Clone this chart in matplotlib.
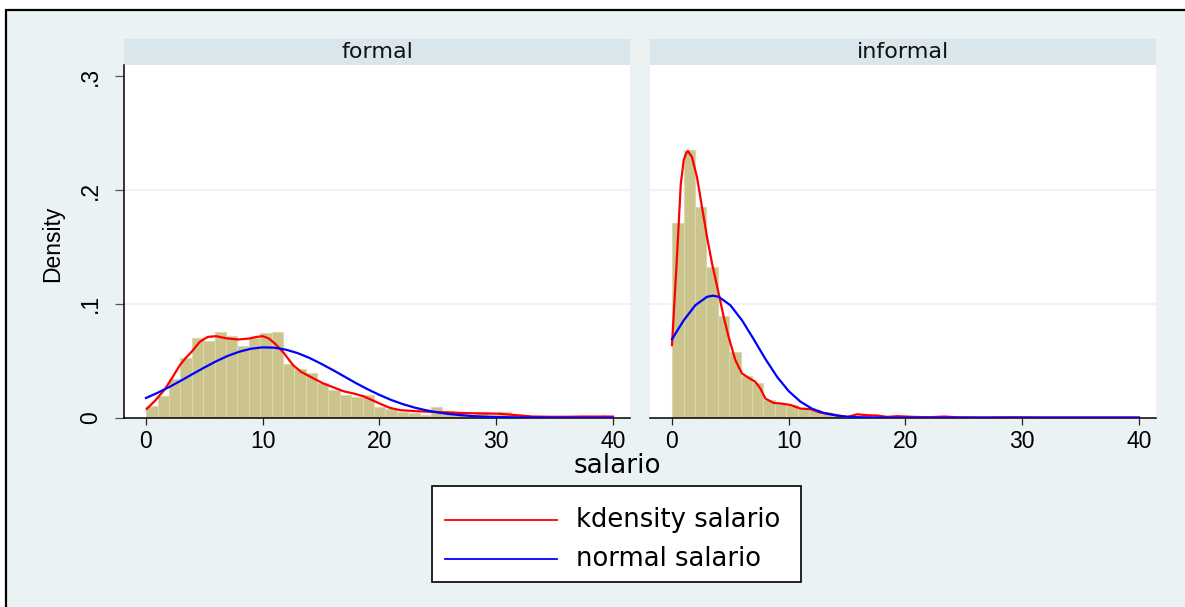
import numpy as np
import matplotlib
matplotlib.use('Agg')
import matplotlib.pyplot as plt
from matplotlib.patches import Rectangle
from matplotlib.lines import Line2D

# ── Data ─────────────────────────────────────────────────────────────────────
panels = ["formal", "informal"]

bin_start = 0.03
bin_width = 0.975

formal_hist = [0.0099, 0.0187, 0.0336, 0.0523, 0.0704, 0.0670, 0.0755, 0.0722,
               0.0626, 0.0702, 0.0742, 0.0757, 0.0468, 0.0430, 0.0395, 0.0304,
               0.0246, 0.0200, 0.0180, 0.0196, 0.0094, 0.0073, 0.0050, 0.0041,
               0.0020, 0.0097, 0.0059, 0.0035, 0.0026, 0.0047, 0.0026, 0.0047,
               0.0032, 0.0015, 0.0010, 0.0008, 0.0012, 0.0006, 0.0008, 0.0006,
               0.0020]
informal_hist = [0.1710, 0.2354, 0.1850, 0.1327, 0.0897, 0.0576, 0.0362, 0.0307,
                 0.0152, 0.0123, 0.0108, 0.0079, 0.0064, 0.0035, 0.0015, 0.0008,
                 0.0012, 0.0009, 0.0006, 0.0007, 0.0005, 0.0004, 0.0003, 0.0004,
                 0.0003, 0.0002, 0.0002, 0.0002, 0.0002, 0.0002, 0.0001, 0.0001,
                 0.0001, 0.0001, 0.0001, 0.0001, 0.0001, 0.0001, 0.0001, 0.0001,
                 0.0001]

formal_kde_x = [0.06, 0.8, 1.6, 2.3, 2.9, 3.4, 3.9, 4.6, 5.3, 6.0, 6.9, 7.9, 8.8,
                9.5, 10.0, 10.5, 11.05, 11.8, 12.6, 13.3, 14.2, 15.2, 16.1, 16.9,
                17.8, 18.6, 19.2, 20.0, 20.9, 21.8, 23.2, 24.6, 26.0, 27.4, 28.9,
                30.3, 31.7, 33.1, 34.6, 36.0, 37.4, 38.8, 40.0]
formal_kde_y = [0.0077, 0.0152, 0.0247, 0.0360, 0.0461, 0.0525, 0.0578, 0.0666,
                0.0710, 0.0716, 0.0697, 0.0687, 0.0695, 0.0710, 0.0716, 0.0697,
                0.0651, 0.0569, 0.0461, 0.0402, 0.0353, 0.0300, 0.0265, 0.0233,
                0.0212, 0.0189, 0.0162, 0.0125, 0.0086, 0.0066, 0.0057, 0.0051,
                0.0046, 0.0040, 0.0037, 0.0035, 0.0022, 0.0010, 0.0008, 0.0008,
                0.0010, 0.0010, 0.0008]

formal_norm_x = list(range(0, 31)) + [32, 34, 36, 38, 40]
formal_norm_y = [0.0173, 0.0219, 0.0270, 0.0326, 0.0384, 0.0441, 0.0495, 0.0543,
                 0.0580, 0.0606, 0.0618, 0.0615, 0.0597, 0.0567, 0.0525, 0.0474,
                 0.0419, 0.0361, 0.0303, 0.0249, 0.0200, 0.0156, 0.0119, 0.0089,
                 0.0065, 0.0046, 0.0032, 0.0022, 0.0014, 0.0009, 0.0006, 0.0002,
                 0.0001, 0.0000, 0.0000, 0.0000]

informal_kde_x = [0.0, 0.42, 0.75, 1.0, 1.2, 1.36, 1.71, 2.14, 2.57, 3.0, 3.43, 4.0,
                  4.43, 4.85, 5.43, 6.0, 6.57, 7.14, 7.57, 8.0, 8.7, 9.3, 10.15,
                  11.0, 11.86, 12.7, 13.6, 14.4, 15.0, 15.85, 16.7, 17.6, 18.4,
                  19.3, 20.7, 22.1, 23.3, 24.4, 26.4, 29.0, 32.2, 37.9, 40.0]
informal_kde_y = [0.0637, 0.1400, 0.2050, 0.2260, 0.2320, 0.2342, 0.2290, 0.2114,
                  0.1850, 0.1587, 0.1354, 0.1090, 0.0885, 0.0709, 0.0505, 0.0388,
                  0.0350, 0.0315, 0.0256, 0.0168, 0.0130, 0.0125, 0.0112, 0.0080,
                  0.0075, 0.0045, 0.0033, 0.0016, 0.0005, 0.0030, 0.0022, 0.0019,
                  0.0007, 0.0013, 0.0007, 0.0004, 0.0010, 0.0004, 0.0002, 0.0004,
                  0.0002, 0.0002, 0.0002]

informal_norm_x = [0, 1, 2, 3, 3.5, 4, 5, 6, 7, 8, 9, 10, 11, 12, 13, 14, 15, 16,
                   18, 20, 25, 30, 35, 40]
informal_norm_y = [0.0689, 0.0855, 0.0988, 0.1062, 0.1072, 0.1062, 0.0988, 0.0855,
                   0.0689, 0.0516, 0.0359, 0.0233, 0.0141, 0.0079, 0.0041, 0.0020,
                   0.0009, 0.0004, 0.0001, 0.0000, 0.0000, 0.0000, 0.0000, 0.0000]

xticks = [0, 10, 20, 30, 40]
yticks = [0, 0.1, 0.2, 0.3]
ytick_labels = ["0", ".1", ".2", ".3"]

hists = [formal_hist, informal_hist]
kdes = [(formal_kde_x, formal_kde_y), (informal_kde_x, informal_kde_y)]
norms = [(formal_norm_x, formal_norm_y), (informal_norm_x, informal_norm_y)]

# ── Style ────────────────────────────────────────────────────────────────────
W, H = 1185, 607
BG = "#EAF2F3"
STRIP = "#D9E6EB"
BAR = "#CBC48C"
BAR_EDGE = "#DCD7B0"
NARROW = ["Liberation Sans Narrow", "Liberation Sans", "DejaVu Sans"]

fig = plt.figure(figsize=(W / 100, H / 100), dpi=100, facecolor="white")

# outer graph region with black frame (cut off on right / bottom)
fig.patches.append(Rectangle((6 / W, -0.05), 1.2, 1 - 10 / H + 0.05,
                             transform=fig.transFigure, facecolor=BG,
                             edgecolor="black", linewidth=1.6, zorder=-10))

ax_bottom = 1 - 417.7 / H
ax_height = 352.7 / H
lefts = [124 / W, 650 / W]
width = 506 / W

for i, name in enumerate(panels):
    ax = fig.add_axes([lefts[i], ax_bottom, width, ax_height])
    ax.set_facecolor("white")
    edges = bin_start + bin_width * np.arange(len(hists[i]))
    ax.bar(edges, hists[i], width=bin_width, align="edge", color=BAR,
           edgecolor=BAR_EDGE, linewidth=0.8, zorder=2)
    ax.plot(*kdes[i], color="#FF0000", lw=1.6, zorder=3)
    ax.plot(*norms[i], color="#0000FF", lw=1.6, zorder=4)

    ax.set_xlim(-1.884, 41.456)
    ax.set_ylim(0, 0.3098)
    ax.set_xticks(xticks)
    ax.set_yticks(yticks)
    for g in [0.1, 0.2]:
        ax.axhline(g, color=BG, lw=1.2, zorder=1)

    for s in ["top", "right"]:
        ax.spines[s].set_visible(False)
    ax.spines["bottom"].set_linewidth(1.1)
    ax.spines["left"].set_linewidth(1.1)
    ax.tick_params(axis="x", length=5, width=0.9, color="#222222", pad=3.5,
                   labelsize=16.5)
    for lab in ax.get_xticklabels():
        lab.set_family(NARROW)
    if i == 0:
        ax.set_yticklabels(ytick_labels, rotation=90, va="center",
                           family=NARROW, fontsize=16.5)
        ax.tick_params(axis="y", length=6.5, width=0.9, color="#555555", pad=9.5)
    else:
        ax.spines["left"].set_visible(False)
        ax.tick_params(axis="y", left=False, labelleft=False)

    # strip title
    ax.add_patch(Rectangle((0, 1), 1, 26 / 352.7, transform=ax.transAxes,
                           facecolor=STRIP, edgecolor="none", clip_on=False))
    ax.text(0.5, 1 + 13 / 352.7, name, transform=ax.transAxes, ha="center",
            va="center", fontsize=16, family="DejaVu Sans", color="#111111")

fig.text(52.5 / W, 1 - 244 / H, "Density", rotation=90, ha="center", va="center",
         fontsize=16.5, family=NARROW)
fig.text(617 / W, 1 - 466 / H, "salario", ha="center", va="center",
         fontsize=18.8, family="DejaVu Sans")

# legend box
fig.patches.append(Rectangle((432 / W, 1 - 582 / H), 369 / W, 96 / H,
                             transform=fig.transFigure, facecolor="white",
                             edgecolor="black", linewidth=1.2, zorder=5))
for y, c, lab in [(520, "#FF0000", "kdensity salario"),
                  (559, "#0000FF", "normal salario")]:
    fig.lines.append(Line2D([445 / W, 557 / W], [1 - y / H, 1 - y / H],
                            transform=fig.transFigure, color=c, lw=1.3, zorder=6))
    fig.text(576 / W, 1 - y / H, lab, ha="left", va="center", fontsize=18.6,
             family="DejaVu Sans", zorder=7)

fig.savefig("out.png", dpi=100, facecolor="white")
